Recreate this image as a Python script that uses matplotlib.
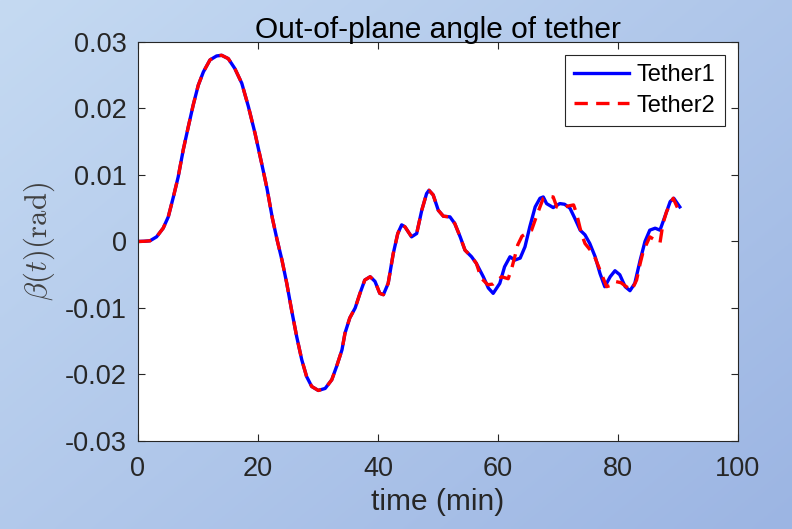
import numpy as np
import matplotlib.pyplot as plt

# time in minutes and out-of-plane angle (rad)
t1 = [0, 1, 2.0, 3.1, 4.2, 5.05, 5.9, 6.7, 7.55, 8.4, 9.2, 10.05, 10.9, 12,
      13.1, 13.95, 15.05, 16.15, 17.3, 18.4, 19.5, 20.6, 21.5, 22.4, 23.2,
      24.0, 24.8, 25.6, 26.45, 27.3, 28.1, 28.95, 30.05, 31.2, 32.3, 33.1,
      34, 34.5, 35.3, 36.2, 37, 37.8, 38.7, 39.5, 40.3, 40.9, 41.7, 42.55,
      43.3, 43.95, 44.5, 45.6, 46.45, 47.3, 48.1, 48.5, 49.2, 50.05, 50.9,
      52, 52.8, 53.7, 54.5, 55.6, 56.4, 57.55, 58.4, 59.2, 60.3, 61.1, 62,
      62.8, 63.7, 64.5, 65.3, 66.2, 67, 67.55, 68.1, 69.2, 70.3, 71.1, 72,
      72.8, 73.7, 74.5, 75.3, 76.2, 77, 77.8, 78.7, 79.5, 80.3, 81.2, 82,
      82.8, 83.7, 84.5, 85.3, 86.2, 87, 87.8, 88.7, 89.3, 90.3]
beta1 = [0, 0.00003, 0.0001, 0.0007, 0.0020, 0.0037, 0.0067, 0.0097, 0.0138,
         0.0173, 0.0205, 0.0235, 0.0255, 0.0273, 0.0279, 0.0280, 0.0275,
         0.0260, 0.0238, 0.0203, 0.0163, 0.0118, 0.0080, 0.0035, 0.0002,
         -0.0028, -0.0063, -0.0103, -0.0143, -0.0178, -0.0203, -0.0218,
         -0.0224, -0.0221, -0.0208, -0.0188, -0.0163, -0.0138, -0.0115,
         -0.0100, -0.0078, -0.0058, -0.0053, -0.0060, -0.0078, -0.0080,
         -0.0063, -0.0018, 0.0012, 0.0025, 0.0022, 0.0007, 0.0012, 0.0047,
         0.0072, 0.0077, 0.0070, 0.0047, 0.0038, 0.0037, 0.0027, 0.0007,
         -0.0013, -0.0023, -0.0033, -0.0053, -0.0070, -0.0078, -0.0063,
         -0.0038, -0.0023, -0.0028, -0.0025, -0.0008, 0.0022, 0.0052,
         0.0065, 0.0067, 0.0057, 0.0051, 0.0057, 0.0056, 0.0050, 0.0035,
         0.0017, 0.0010, -0.0003, -0.0023, -0.0048, -0.0068, -0.0053,
         -0.0044, -0.0050, -0.0068, -0.0074, -0.0063, -0.0028, 0.0000,
         0.0017, 0.0020, 0.0017, 0.0037, 0.0060, 0.0065, 0.0052]

# Tether2 follows Tether1 until about 56 min
n_same = 65
t2 = t1[:n_same] + [57.2, 58.3, 59.2, 60.6, 61.7, 62.3, 62.8, 63.3, 64.0,
                    64.7, 65.6, 66.3, 67, 67.55, 68.3, 69.2, 69.8, 70.5,
                    71.5, 72.6, 73.1, 73.9, 74.5, 75.3, 76.2, 77, 78.1,
                    78.8, 79.5, 80.5, 81.4, 82.3, 83.1, 83.7, 84.2, 85.3,
                    86.2, 87, 87.5, 88.1, 89.2, 90.2]
beta2 = beta1[:n_same] + [-0.0055, -0.0065, -0.0064, -0.0053, -0.0056,
                          -0.0040, -0.0023, -0.0005, 0.0008, 0.0012, 0.0017,
                          0.0035, 0.0052, 0.0065, 0.0068, 0.0067, 0.0052,
                          0.0050, 0.0053, 0.0055, 0.0042, 0.0012, -0.0003,
                          -0.0012, -0.0025, -0.0043, -0.0068, -0.0066,
                          -0.0060, -0.0062, -0.0068, -0.0073, -0.0058,
                          -0.0033, -0.0015, 0.0007, 0.0002, -0.0002, 0.0027,
                          0.0045, 0.0065, 0.0045]

plt.rcParams['font.family'] = ['Liberation Sans', 'DejaVu Sans']
plt.rcParams['mathtext.fontset'] = 'cm'

fig = plt.figure(figsize=(7.92, 5.29), dpi=100)

# gradient background behind everything
bg = fig.add_axes([0, 0, 1, 1], zorder=-10)
gx, gy = np.meshgrid(np.linspace(0, 1, 200), np.linspace(0, 1, 200))
g = (0.55 * gx + 0.45 * gy)[..., None]
c0 = np.array([197, 218, 242]) / 255
c1 = np.array([156, 181, 227]) / 255
bg.imshow(c0 * (1 - g) + c1 * g, aspect='auto', extent=[0, 1, 0, 1])
bg.axis('off')

ax = fig.add_axes([0.1742, 0.1664, 0.7576, 0.7542])
ax.set_facecolor('white')
ax.plot(t1, beta1, '-', color='#0000ff', lw=2.4, label='Tether1',
        solid_joinstyle='round')
ax.plot(t2, beta2, '--', color='#ff0000', lw=2.4, dashes=(4.0, 2.5),
        label='Tether2', dash_joinstyle='round')

ax.set_xlim(0, 100)
ax.set_ylim(-0.03, 0.03)
ax.set_xticks([0, 20, 40, 60, 80, 100])
ax.set_yticks([-0.03, -0.02, -0.01, 0, 0.01, 0.02, 0.03])
ax.set_yticklabels(['-0.03', '-0.02', '-0.01', '0', '0.01', '0.02', '0.03'])
ax.tick_params(direction='in', top=True, right=True, length=5, width=0.8,
               labelsize=19.5, colors='#262626')
ax.tick_params(axis='x', pad=11)
ax.tick_params(axis='y', pad=8)
for s in ax.spines.values():
    s.set_color('#262626')
    s.set_linewidth(0.8)

ax.set_title('Out-of-plane angle of tether', fontsize=21.5, color='black', pad=3)
ax.set_xlabel('time (min)', fontsize=21.5, color='#262626', labelpad=4)
ax.set_ylabel(r'$\beta(t)(\mathrm{rad})$', fontsize=22, color='#404040',
              labelpad=6)

leg = ax.legend(loc='upper right', fontsize=17, handlelength=2.3,
                fancybox=False, framealpha=1, edgecolor='#262626',
                borderaxespad=0.55, borderpad=0.4, labelspacing=0.35,
                handletextpad=0.35)
leg.get_frame().set_linewidth(0.8)

fig.savefig('out.png', dpi=100)
